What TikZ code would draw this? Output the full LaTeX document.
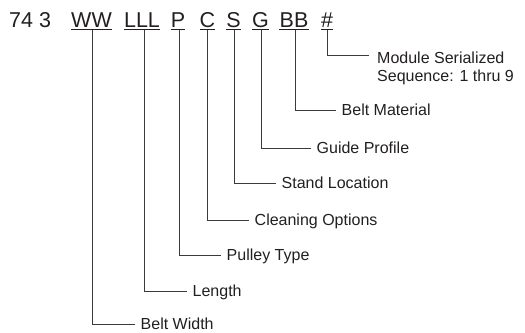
\documentclass[tikz,border=0pt]{standalone}
\usepackage{fontspec}
\setmainfont{Liberation Sans}
\definecolor{ink}{HTML}{231F20}
\definecolor{wire}{HTML}{3A3A3A}
\begin{document}
\begin{tikzpicture}[x=1bp,y=-1bp,
  code/.style={font=\fontsize{21.5bp}{24bp}\selectfont, text=ink, inner xsep=0pt, inner ysep=0pt, text depth=2.5bp, anchor=base},
  lbl/.style={font=\fontsize{16bp}{17.5bp}\selectfont, text=ink, anchor=west, inner xsep=5.5bp, inner ysep=0pt, text height=11.5bp, text depth=0pt},
  uline/.style={draw=ink, line width=1.5bp},
  wirestyle/.style={draw=wire, line width=1bp}]
\useasboundingbox (0,0) rectangle (525,332);
% top code line
\node[code, anchor=base west] (pre) at (9,27) {74 3};
\node[code] (ww) at (91.5,27) {WW};
\node[code] (lll) at (142,27) {LLL};
\node[code] (p) at (178,27) {P};
\node[code] (c) at (207.5,27) {C};
\node[code] (s) at (233.5,27) {S};
\node[code] (g) at (260.5,27) {G};
\node[code] (bb) at (294,27) {BB};
\node[code] (hash) at (327,27) {\#};
\foreach \n in {ww,lll,p,c,s,g,bb,hash}
  \draw[uline] (\n.south west) -- (\n.south east);
% labels
\coordinate (modin) at (369,55);
\node[font=\fontsize{16bp}{17.5bp}\selectfont, text=ink, align=left, anchor=north west, inner xsep=8bp, inner ysep=0pt, yshift=3bp] (mod) at (modin) {Module Serialized\\Sequence: 1 thru 9};
\node[lbl] (bm) at (336,110) {Belt Material};
\node[lbl] (gp) at (311,148) {Guide Profile};
\node[lbl] (sl) at (276,183) {Stand Location};
\node[lbl] (co) at (249,220) {Cleaning Options};
\node[lbl] (pt) at (221,255) {Pulley Type};
\node[lbl] (len) at (187,291) {Length};
\node[lbl] (bw) at (135,324) {Belt Width};
% connectors
\draw[wirestyle] ([xshift=0.5bp]hash.south) |- (modin);
\draw[wirestyle] ([xshift=1.5bp]bb.south) |- (bm.west);
\draw[wirestyle] ([xshift=1bp]g.south) |- (gp.west);
\draw[wirestyle] ([xshift=0.5bp]s.south) |- (sl.west);
\draw[wirestyle] ([xshift=-0.5bp]c.south) |- (co.west);
\draw[wirestyle] ([xshift=1bp]p.south) |- (pt.west);
\draw[wirestyle] ([xshift=2bp]lll.south) |- (len.west);
\draw[wirestyle] ([xshift=0.5bp]ww.south) |- (bw.west);
\end{tikzpicture}
\end{document}
